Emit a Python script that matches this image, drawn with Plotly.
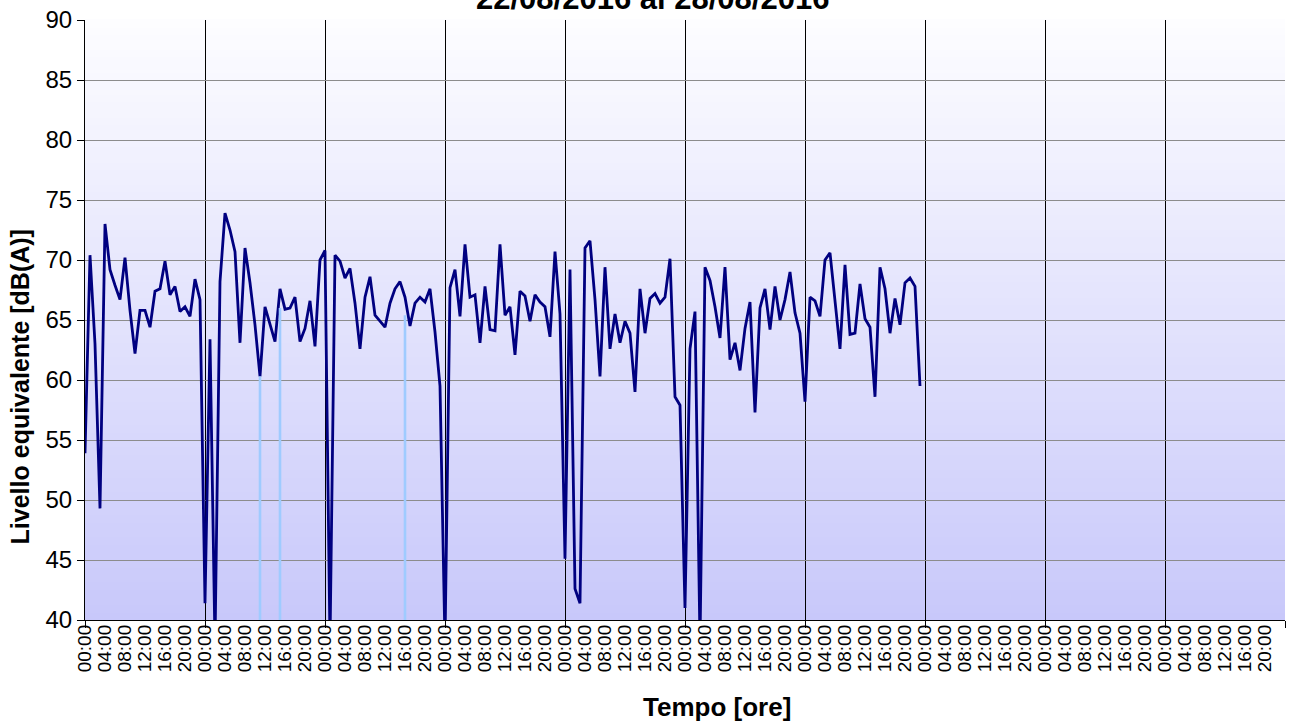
import plotly.graph_objects as go

# ---- data (hourly equivalent levels, dB(A)) ----
day0 = [53.9, 70.4, 63.0, 49.3, 73.0, 69.2, 67.9, 66.7, 70.2, 65.8, 62.2, 65.8,
        65.8, 64.4, 67.4, 67.6, 69.9, 67.1, 67.8, 65.7, 66.1, 65.3, 68.4, 66.7]
day1 = [41.4, 63.4, 38.0, 68.2, 73.9, 72.5, 70.7, 63.1, 71.0, 68.1, 64.6, 60.3,
        66.1, 64.7, 63.2, 67.6, 65.9, 66.0, 66.9, 63.2, 64.3, 66.6, 62.8, 70.0]
day2 = [70.8, 38.0, 70.4, 69.9, 68.5, 69.3, 66.4, 62.6, 66.9, 68.6, 65.4, 64.9,
        64.4, 66.4, 67.6, 68.2, 66.9, 64.5, 66.4, 66.9, 66.5, 67.6, 64.0, 59.5]
day3 = [38.0, 67.7, 69.2, 65.3, 71.3, 66.9, 67.1, 63.1, 67.8, 64.2, 64.1, 71.3,
        65.4, 66.1, 62.1, 67.4, 67.0, 64.9, 67.1, 66.5, 66.1, 63.6, 70.7, 65.5]
day4 = [45.1, 69.2, 42.6, 41.4, 71.0, 71.6, 66.7, 60.3, 69.4, 62.6, 65.5, 63.1,
        64.9, 63.9, 59.0, 67.6, 63.9, 66.8, 67.2, 66.4, 66.9, 70.1, 58.6, 57.9]
day5 = [41.0, 62.6, 65.7, 38.0, 69.4, 68.3, 66.1, 63.5, 69.4, 61.7, 63.1, 60.8,
        64.3, 66.5, 57.3, 66.0, 67.6, 64.2, 67.8, 65.0, 66.7, 69.0, 65.6, 63.9]
day6 = [58.2, 66.9, 66.6, 65.3, 70.0, 70.6, 66.7, 62.6, 69.6, 63.8, 63.9, 68.0,
        65.1, 64.4, 58.6, 69.4, 67.6, 63.9, 66.8, 64.6, 68.1, 68.5, 67.8, 59.5]
levels = day0 + day1 + day2 + day3 + day4 + day5 + day6

# light-blue marker series (hour index, level)
event_hours = [35, 39, 64]
event_levels = [60.3, 66.0, 65.4]

n_days_axis = 10
hour_labels = ["00:00", "04:00", "08:00", "12:00", "16:00", "20:00"]

title_text = "22/08/2016 al 28/08/2016"
y_title = "Livello equivalente [dB(A)]"
x_title = "Tempo [ore]"
Y_MIN, Y_MAX = 40, 90

# ---- derived ----
hours = list(range(len(levels)))
tick4_vals = [d * 24 + i * 4 for d in range(n_days_axis) for i in range(6)]
tick4_text = [hour_labels[i] for d in range(n_days_axis) for i in range(6)]
day_vals = [d * 24 for d in range(n_days_axis + 1)]

ev_x, ev_y = [], []
for h, v in zip(event_hours, event_levels):
    ev_x += [h, h, None]
    ev_y += [v, Y_MIN, None]

FONT = "Liberation Sans, Arial, sans-serif"

fig = go.Figure()
fig.add_trace(go.Scatter(x=ev_x, y=ev_y, mode="lines", xaxis="x2",
                         line=dict(color="#9fcbff", width=2.6), showlegend=False,
                         hoverinfo="skip"))
fig.add_trace(go.Scatter(x=hours, y=levels, mode="lines",
                         line=dict(color="#000080", width=2.8), showlegend=False))

# gradient background
N = 80
top = (253, 253, 255)
bot = (200, 200, 250)
shapes = []
for i in range(N):
    t = (i + 0.5) / N
    c = tuple(round(bot[k] + (top[k] - bot[k]) * t) for k in range(3))
    shapes.append(dict(type="rect", xref="x domain", yref="y domain",
                       x0=0, x1=1, y0=i / N, y1=(i + 1) / N + 0.002,
                       fillcolor="rgb(%d,%d,%d)" % c, line=dict(width=0),
                       layer="below"))

fig.update_layout(
    width=1292, height=725,
    margin=dict(l=85, r=7, t=20, b=105),
    paper_bgcolor="white", plot_bgcolor="white",
    font=dict(family=FONT, color="black"),
    shapes=shapes,
    xaxis=dict(range=[0, n_days_axis * 24], tickvals=day_vals, showticklabels=False,
               ticks="outside", ticklen=7, tickcolor="black", tickwidth=1,
               showgrid=True, gridcolor="black", gridwidth=1,
               showline=True, linecolor="black", linewidth=1, zeroline=False),
    xaxis2=dict(range=[0, n_days_axis * 24], overlaying="x", anchor="y", side="bottom",
                matches="x", tickvals=tick4_vals, ticktext=tick4_text, tickangle=-90,
                ticks="", showgrid=False, zeroline=False,
                tickfont=dict(size=19, family=FONT, color="black")),
    yaxis=dict(range=[Y_MIN, Y_MAX], dtick=5, ticks="outside", ticklen=7,
               tickcolor="black", showline=True, linecolor="black", linewidth=1,
               gridcolor="#8c8c8c", gridwidth=1, zeroline=False,
               tickfont=dict(size=24, family=FONT, color="black")),
    annotations=[
        dict(text="<b>%s</b>" % title_text, xref="paper", yref="paper",
             x=0.473, y=1.004, xanchor="center", yanchor="bottom", showarrow=False,
             font=dict(size=31, family=FONT, color="black")),
        dict(text="<b>%s</b>" % y_title, xref="paper", yref="paper",
             x=-0.054, y=0.388, xanchor="center", yanchor="middle", textangle=-90,
             showarrow=False, font=dict(size=25, family=FONT, color="black")),
        dict(text="<b>%s</b>" % x_title, xref="paper", yref="paper",
             x=0.527, y=-0.145, xanchor="center", yanchor="middle", showarrow=False,
             font=dict(size=26, family=FONT, color="black")),
    ],
)

fig.write_html("out.html", config={"displayModeBar": False},
               post_script="document.body.style.margin='0';")
